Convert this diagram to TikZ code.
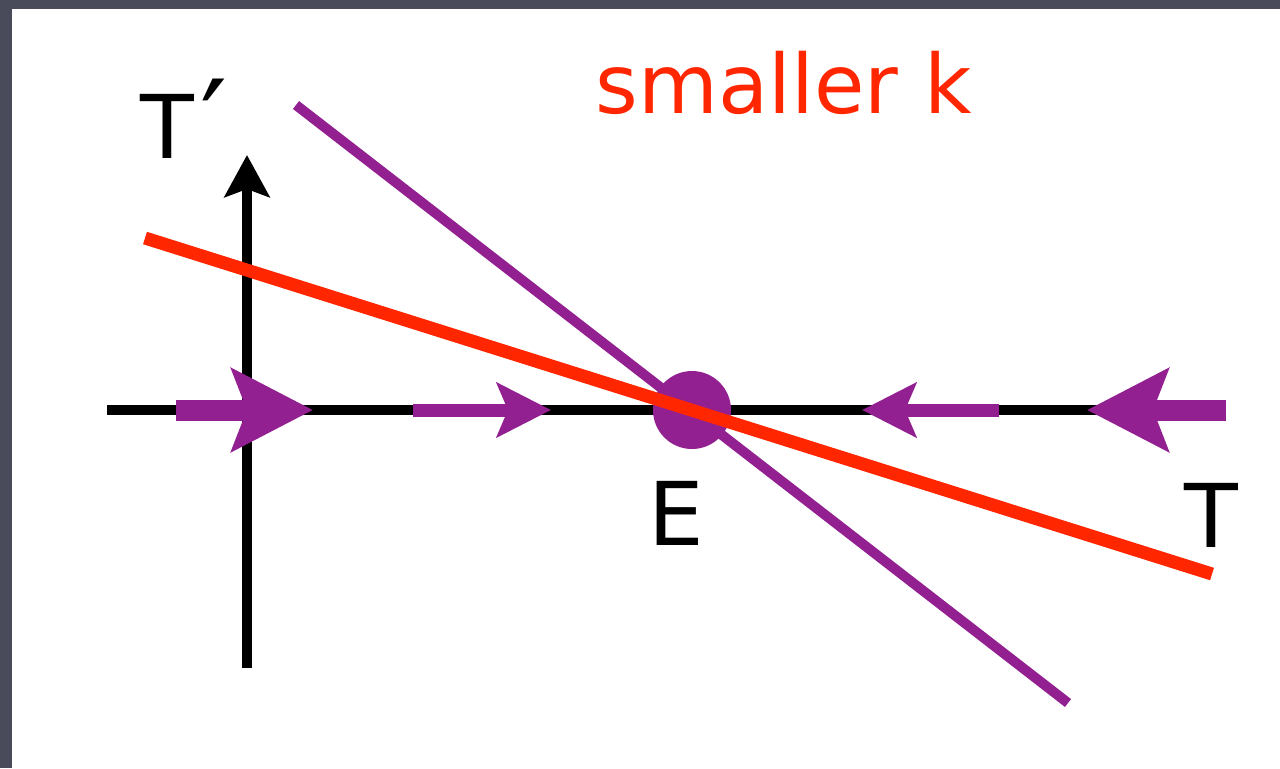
\documentclass[tikz,border=0pt]{standalone}
\usepackage{fontspec}
\setmainfont{DejaVu Sans}
\usetikzlibrary{arrows.meta}
\definecolor{flowpurple}{RGB}{146,32,144}
\definecolor{kred}{RGB}{255,38,0}
\definecolor{edgegray}{RGB}{74,75,90}

\begin{document}
\begin{tikzpicture}[x=0.5pt,y=-0.5pt,
  axis/.style={line width=5pt},
  bigflow/.style={flowpurple,line width=10.5pt,-{Stealth[length=40.5pt,width=41pt,inset=7.5pt]}},
  smallflow/.style={flowpurple,line width=6.5pt,-{Stealth[length=27pt,width=27pt,inset=5.5pt]}},
  lbl/.style={font=\fontsize{44}{44}\selectfont,anchor=base}]
\useasboundingbox (0,0) rectangle (1280,768);
\fill[edgegray] (0,0) rectangle (1280,768);
\fill[white] (12,9) rectangle (1280,768);
% axes
\coordinate (xl) at (107,410); \coordinate (xr) at (1222,410);
\coordinate (yb) at (247,668); \coordinate (yt) at (247,155);
\draw[axis] (xl) -- (xr);
\draw[axis,-{Stealth[length=21pt,width=22.5pt,inset=4pt]}] (yb) -- (yt);
% flow along T
\foreach \n/\s/\e in {1/176/313,2/413/551,3/999/862,4/1226/1087}{
  \coordinate (f\n s) at (\s,410); \coordinate (f\n e) at (\e,410);}
\draw[bigflow] (f1s) -- (f1e);
\draw[smallflow] (f2s) -- (f2e);
\draw[smallflow] (f3s) -- (f3e);
\draw[bigflow] (f4s) -- (f4e);
\node[circle,fill=flowpurple,inner sep=0pt,minimum size=39pt] (eq) at (692,410) {};
% the two lines
\coordinate (pa) at (296,105); \coordinate (pb) at (1068,703);
\coordinate (ra) at (145,238); \coordinate (rb) at (1212,574);
\draw[flowpurple,line width=5pt] (pa) -- (pb);
\draw[kred,line width=6.5pt] (ra) -- (rb);
% labels
\node[lbl] (tprime) at (184,158) {T\kern3pt\raisebox{-4pt}{\fontsize{60}{60}\selectfont ′}};
\node[lbl] (elbl) at (676,545) {E};
\node[lbl] (tlbl) at (1211,547) {T};
\node[lbl,kred,font=\fontsize{41}{41}\selectfont] (title) at (784,113) {smaller k};
\end{tikzpicture}
\end{document}
